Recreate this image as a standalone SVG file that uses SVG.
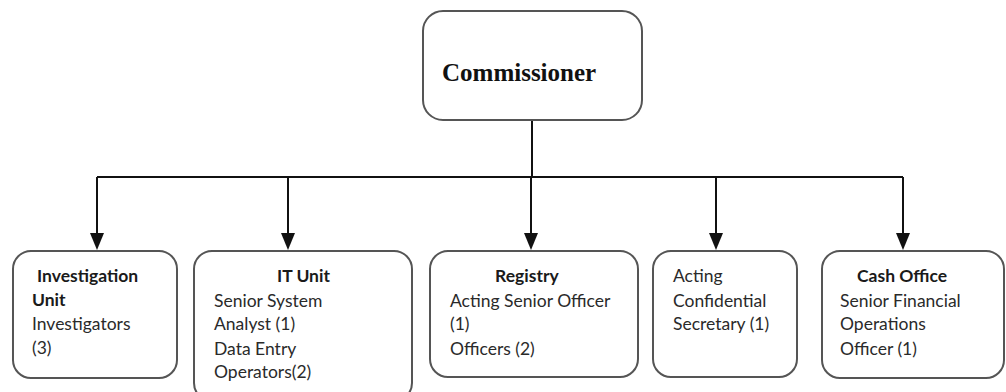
<svg xmlns="http://www.w3.org/2000/svg" width="1006" height="392" viewBox="0 0 1006 392">
<style>
.box{fill:#fff;stroke:#555;stroke-width:2}
.conn{fill:none;stroke:#111;stroke-width:2}
.head{fill:#111}
.t{font-family:Lato,"Liberation Sans",sans-serif;font-size:17.5px;fill:#2a2a2a}
.b{font-weight:bold;fill:#1a1a1a}
.ct{font-family:"Liberation Serif",serif;font-weight:bold;font-size:25px;fill:#111}
</style>
<g id="connectors">
<line class="conn" x1="532" y1="120" x2="532" y2="177"/>
<line class="conn" x1="97" y1="177" x2="903" y2="177"/>
<path d="M97,177 V233" class="conn"/>
<path d="M90,233 L104,233 L97,250 Z" class="head"/>
<path d="M288,177 V233" class="conn"/>
<path d="M281,233 L295,233 L288,250 Z" class="head"/>
<path d="M531,177 V233" class="conn"/>
<path d="M524,233 L538,233 L531,250 Z" class="head"/>
<path d="M716,177 V233" class="conn"/>
<path d="M709,233 L723,233 L716,250 Z" class="head"/>
<path d="M903,177 V233" class="conn"/>
<path d="M896,233 L910,233 L903,250 Z" class="head"/>
</g>
<g id="commissioner">
<rect class="box" x="423" y="11" width="219" height="109" rx="20"/>
<text class="ct" x="442" y="81">Commissioner</text>
</g>
<g id="investigation">
<rect class="box" x="13" y="251" width="164" height="127" rx="18"/>
<text class="t b" x="37" y="282">Investigation</text>
<text class="t b" x="32" y="306">Unit</text>
<text class="t" x="32" y="330">Investigators</text>
<text class="t" x="32" y="354">(3)</text>
</g>
<g id="itunit">
<rect class="box" x="194" y="251" width="218" height="150" rx="18"/>
<text class="t b" x="277" y="282">IT Unit</text>
<text class="t" x="214" y="307">Senior System</text>
<text class="t" x="214" y="330">Analyst (1)</text>
<text class="t" x="214" y="355">Data Entry</text>
<text class="t" x="214" y="378">Operators(2)</text>
</g>
<g id="registry">
<rect class="box" x="430" y="251" width="208" height="126" rx="18"/>
<text class="t b" x="495" y="282">Registry</text>
<text class="t" x="450" y="307">Acting Senior Officer</text>
<text class="t" x="450" y="330">(1)</text>
<text class="t" x="450" y="355">Officers (2)</text>
</g>
<g id="confidential">
<rect class="box" x="653" y="251" width="144" height="126" rx="18"/>
<text class="t" x="673" y="282">Acting</text>
<text class="t" x="673" y="307">Confidential</text>
<text class="t" x="673" y="330">Secretary (1)</text>
</g>
<g id="cashoffice">
<rect class="box" x="822" y="251" width="182" height="127" rx="18"/>
<text class="t b" x="857" y="282">Cash Office</text>
<text class="t" x="840" y="307">Senior Financial</text>
<text class="t" x="840" y="330">Operations</text>
<text class="t" x="840" y="355">Officer (1)</text>
</g>
</svg>
